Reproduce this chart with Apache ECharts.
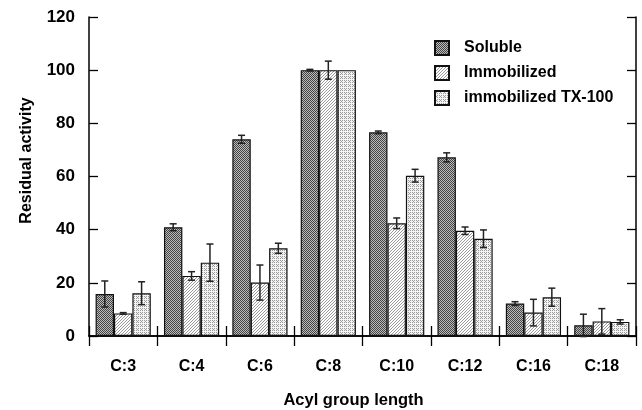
<!DOCTYPE html>
<html lang="en">
<head>
    <meta charset="UTF-8">
    <script type="text/javascript" src="https://cdn.jsdelivr.net/npm/echarts@6/dist/echarts.min.js"></script>
    <title>Residual activity</title>
    <style>
        html, body { margin: 0; padding: 0; background: #fff; }
    </style>
</head>
<body>
<div id="main" style="width: 642px;height:410px;"></div>
<script type="text/javascript">
    // data
    var categories = ['C:3', 'C:4', 'C:6', 'C:8', 'C:10', 'C:12', 'C:16', 'C:18'];
    var seriesNames = ['Soluble', 'Immobilized', 'immobilized TX-100'];
    var soluble = [15.8, 40.9, 74.0, 100, 76.6, 67.2, 12.2, 4.0];
    var solubleErr = [4.9, 1.3, 1.5, 0.3, 0.5, 1.7, 0.7, 4.2];
    var immobilized = [8.5, 22.6, 20.1, 100, 42.4, 39.6, 8.8, 5.5];
    var immobilizedErr = [0.3, 1.6, 6.6, 3.4, 2.0, 1.4, 5.0, 4.8];
    var tx100 = [16.1, 27.6, 33.0, 100, 60.3, 36.6, 14.6, 5.3];
    var tx100Err = [4.3, 7.0, 1.9, 0, 2.4, 3.3, 3.4, 0.8];

    var barW = 18.4;

    // fill patterns
    function makePattern(size, draw) {
        var c = document.createElement('canvas');
        c.width = size; c.height = size;
        var ctx = c.getContext('2d');
        draw(ctx);
        return c;
    }
    var checker = makePattern(2, function (ctx) {
        ctx.fillStyle = '#bcbcbc'; ctx.fillRect(0, 0, 2, 2);
        ctx.fillStyle = '#444444'; ctx.fillRect(0, 0, 1, 1); ctx.fillRect(1, 1, 1, 1);
    });
    var hatch = makePattern(3, function (ctx) {
        ctx.fillStyle = '#ffffff'; ctx.fillRect(0, 0, 3, 3);
        ctx.fillStyle = '#9a9a9a';
        ctx.fillRect(2, 0, 1, 1); ctx.fillRect(1, 1, 1, 1); ctx.fillRect(0, 2, 1, 1);
    });
    var grid = makePattern(4, function (ctx) {
        ctx.fillStyle = '#f4f4f4'; ctx.fillRect(0, 0, 4, 4);
        ctx.fillStyle = '#9a9a9a';
        ctx.fillRect(0, 0, 1, 1); ctx.fillRect(2, 0, 1, 1);
        ctx.fillRect(1, 1, 1, 1);
        ctx.fillRect(0, 2, 1, 1); ctx.fillRect(2, 2, 1, 1);
    });
    var patterns = [checker, hatch, grid];
    var values = [soluble, immobilized, tx100];
    var errors = [solubleErr, immobilizedErr, tx100Err];

    var errData = [];
    for (var s = 0; s < 3; s++) {
        for (var i = 0; i < categories.length; i++) {
            if (errors[s][i] > 0) {
                errData.push([i, values[s][i] - errors[s][i], values[s][i] + errors[s][i], s - 1]);
            }
        }
    }

    var chart = echarts.init(document.getElementById('main'));

    var barSeries = seriesNames.map(function (name, s) {
        return {
            name: name,
            type: 'bar',
            barWidth: barW,
            barGap: '0%',
            data: values[s],
            itemStyle: {
                color: { image: patterns[s], repeat: 'repeat' },
                borderColor: '#111',
                borderWidth: 1.2
            }
        };
    });

    barSeries.push({
        type: 'custom',
        name: 'err',
        z: 5,
        data: errData,
        renderItem: function (params, api) {
            var off = api.value(3) * barW;
            var lo = api.coord([api.value(0), api.value(1)]);
            var hi = api.coord([api.value(0), api.value(2)]);
            var x = lo[0] + off;
            var cap = 3.5;
            var st = { stroke: '#222', lineWidth: 1.5 };
            return {
                type: 'group',
                children: [
                    { type: 'line', shape: { x1: x, y1: lo[1], x2: x, y2: hi[1] }, style: st },
                    { type: 'line', shape: { x1: x - cap, y1: lo[1], x2: x + cap, y2: lo[1] }, style: st },
                    { type: 'line', shape: { x1: x - cap, y1: hi[1], x2: x + cap, y2: hi[1] }, style: st }
                ]
            };
        }
    });

    var axisLine = { show: true, lineStyle: { color: '#000', width: 1.5 } };
    var font = 'Liberation Sans, Arial, sans-serif';

    chart.setOption({
        animation: false,
        grid: { left: 89, right: 6, top: 17, bottom: 74, outerBoundsMode: 'none' },
        legend: {
            data: seriesNames,
            orient: 'vertical',
            left: 429,
            top: 35,
            itemWidth: 14,
            itemHeight: 14,
            itemGap: 9,
            icon: 'rect',
            textStyle: { fontFamily: font, fontWeight: 'bold', fontSize: 16, color: '#000', padding: [0, 0, 0, 10] }
        },
        xAxis: [{
            type: 'category',
            data: categories,
            name: 'Acyl group length',
            nameLocation: 'middle',
            nameGap: 56,
            nameTextStyle: { fontFamily: font, fontWeight: 'bold', fontSize: 16.5, color: '#000', padding: [0, 18, 0, 0] },
            axisLine: axisLine,
            axisTick: { show: true, inside: true, length: 10, lineStyle: { color: '#000', width: 1.3 } },
            axisLabel: { margin: 23, fontFamily: font, fontWeight: 'bold', fontSize: 16, color: '#000' }
        }, {
            type: 'category',
            data: categories,
            position: 'top',
            axisLine: axisLine,
            axisTick: { show: true, inside: true, length: 10, lineStyle: { color: '#000', width: 1.3 } },
            axisLabel: { show: false }
        }],
        yAxis: [{
            type: 'value',
            min: 0,
            max: 120,
            interval: 20,
            name: 'Residual activity',
            nameLocation: 'middle',
            nameGap: 54,
            nameTextStyle: { fontFamily: font, fontWeight: 'bold', fontSize: 16, color: '#000', padding: [0, 0, 0, 32] },
            axisLine: axisLine,
            axisTick: { show: true, inside: true, length: 9, lineStyle: { color: '#000', width: 1.3 } },
            axisLabel: { margin: 14, fontFamily: font, fontWeight: 'bold', fontSize: 17, color: '#000' },
            splitLine: { show: false }
        }, {
            type: 'value',
            min: 0,
            max: 120,
            interval: 20,
            position: 'right',
            axisLine: axisLine,
            axisTick: { show: true, inside: true, length: 9, lineStyle: { color: '#000', width: 1.3 } },
            axisLabel: { show: false },
            splitLine: { show: false }
        }],
        series: barSeries
    });
</script>
</body>
</html>
